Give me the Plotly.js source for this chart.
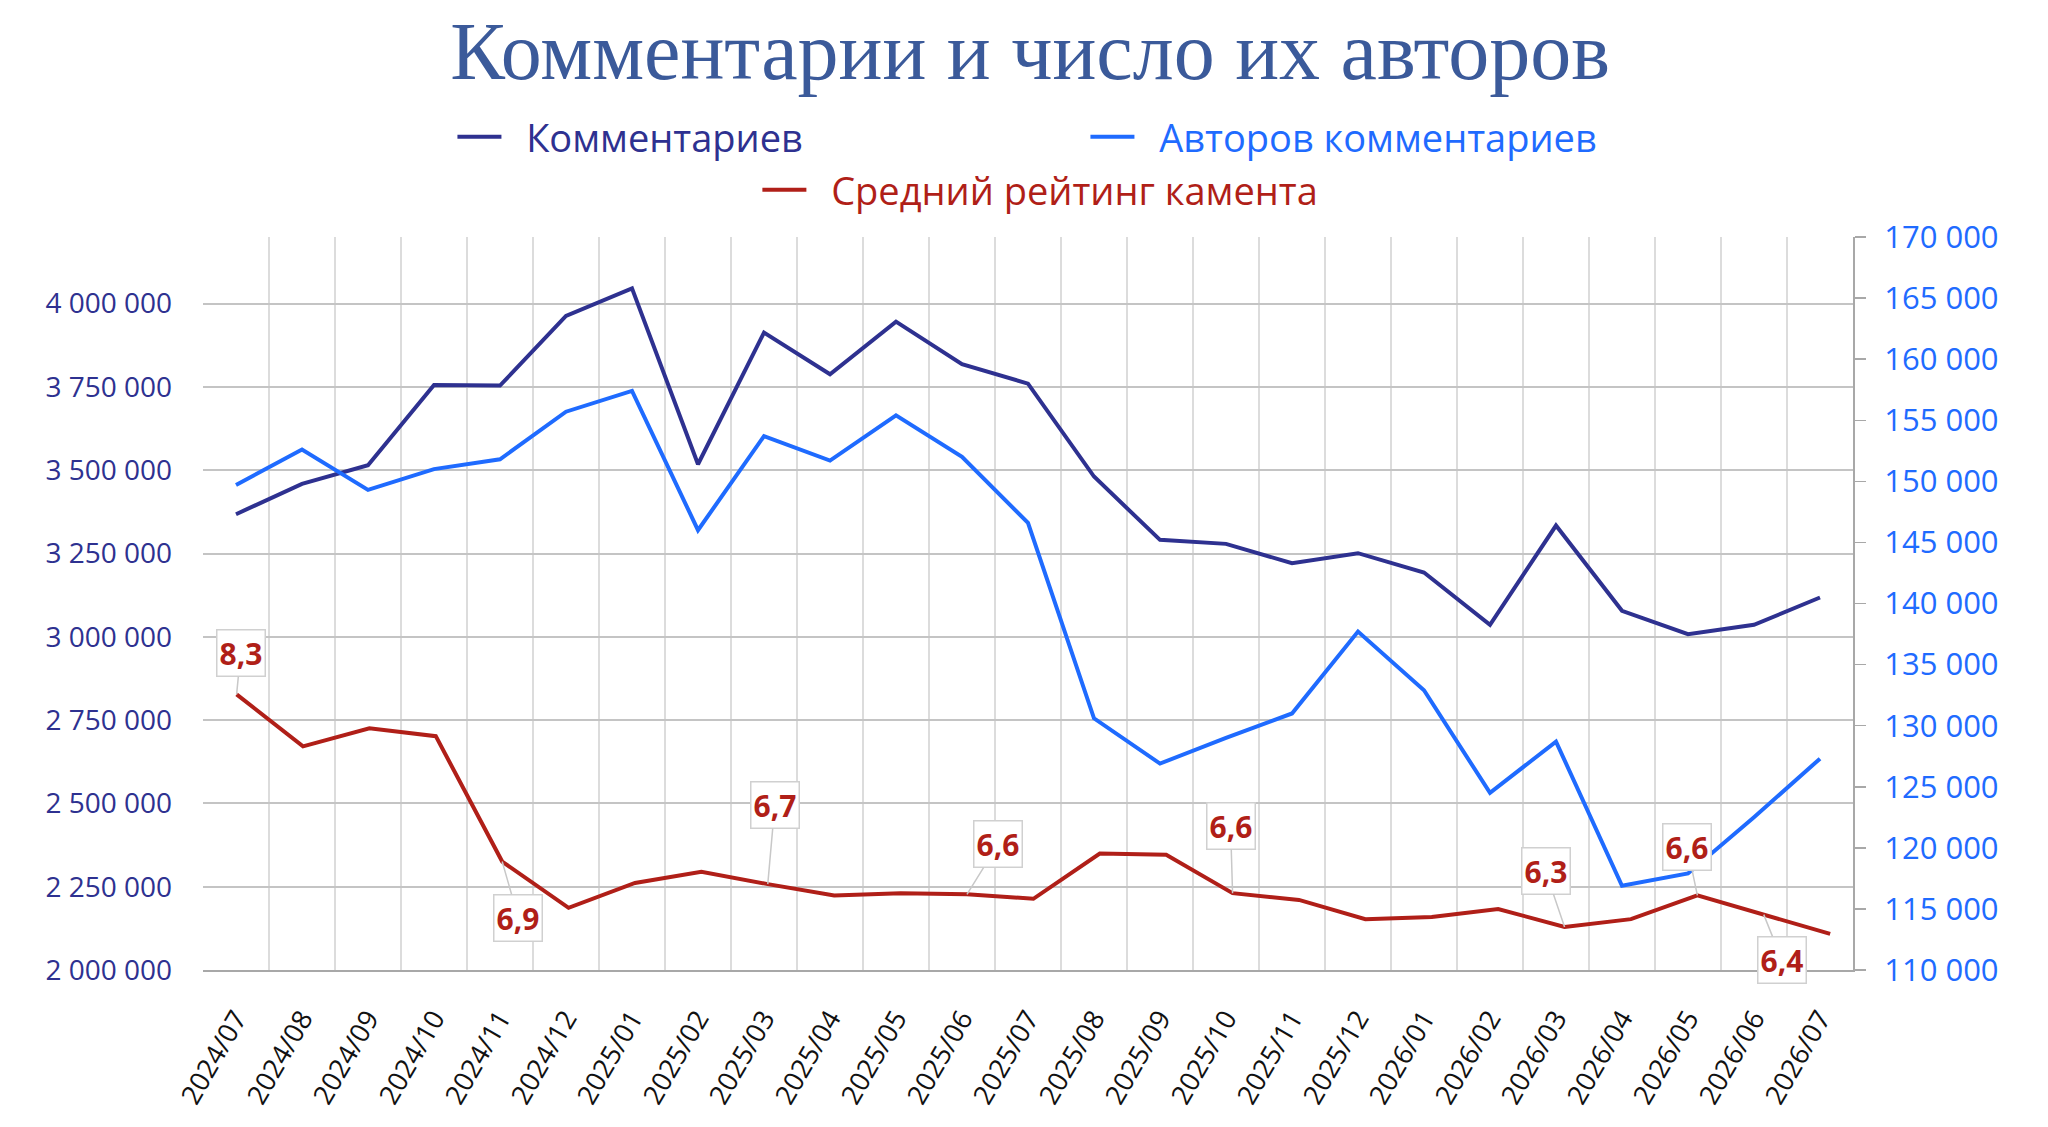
<!DOCTYPE html>
<html>
<head>
<meta charset="utf-8">
<script src="https://cdn.plot.ly/plotly-3.0.1.min.js"></script>
<style>
  html, body { margin: 0; padding: 0; background: #fff; }
  #chart { width: 2048px; height: 1127px; }
</style>
</head>
<body>
<div id="chart"></div>
<script>
var months = ["2024/07", "2024/08", "2024/09", "2024/10", "2024/11", "2024/12",
              "2025/01", "2025/02", "2025/03", "2025/04", "2025/05", "2025/06",
              "2025/07", "2025/08", "2025/09", "2025/10", "2025/11", "2025/12",
              "2026/01", "2026/02", "2026/03", "2026/04", "2026/05", "2026/06",
              "2026/07"];

var comments = [3368000, 3459000, 3515000, 3756000, 3754000, 3963000,
                4046000, 3518000, 3913000, 3788000, 3946000, 3818000,
                3760000, 3481000, 3291000, 3279000, 3221000, 3251000,
                3193000, 3036000, 3334000, 3078000, 3008000, 3036000,
                3118000];

var authors = [149700, 152600, 149300, 151000, 151800, 155700,
               157400, 146000, 153700, 151700, 155400, 152000,
               146600, 130600, 126900, 129000, 131000, 137700,
               132900, 124500, 128700, 116900, 117900, 122500,
               127300];

var rating = [8.34, 7.88, 8.04, 7.97, 6.86, 6.45,
              6.67, 6.77, 6.66, 6.56, 6.58, 6.57,
              6.53, 6.93, 6.92, 6.58, 6.52, 6.35,
              6.37, 6.44, 6.28, 6.35, 6.56, 6.39,
              6.22];

// months that carry a rating callout
var labelled = ["2024/07", "2024/11", "2025/03", "2025/06", "2025/10", "2026/03", "2026/05", "2026/06"];

var NAVY = "#2e3190";
var BLUE = "#1f6bff";
var RED = "#b01f18";

function legendName(txt, col) {
    return '<span style="color:' + col + '">\u00a0\u00a0' + txt + '</span>';
}

var data = [
    {
        x: months, y: comments,
        name: legendName('Комментариев', NAVY),
        mode: 'lines', type: 'scatter',
        line: { color: NAVY, width: 4 },
        legend: 'legend'
    },
    {
        x: months, y: authors,
        name: legendName('Авторов комментариев', BLUE),
        mode: 'lines', type: 'scatter', yaxis: 'y2',
        line: { color: BLUE, width: 4 },
        legend: 'legend'
    },
    {
        x: months, y: rating,
        name: legendName('Средний рейтинг камента', RED),
        mode: 'lines', type: 'scatter', xaxis: 'x2', yaxis: 'y3',
        line: { color: RED, width: 4 },
        legend: 'legend2'
    }
];

// callout box offsets (px) from the point
var offs = [[4, -41], [16, 56], [7, -79], [31, -50], [-2, -67], [-19, -56], [-10, -48], [18, 45]];

var annotations = labelled.map(function (m, k) {
    var v = rating[months.indexOf(m)];
    return {
        x: m, y: v, xref: 'x2', yref: 'y3',
        text: '<b>' + v.toFixed(1).replace('.', ',') + '</b>',
        font: { family: 'Open Sans', size: 30, color: RED },
        showarrow: true, arrowhead: 0, arrowwidth: 1.5, arrowcolor: '#c8c8c8',
        standoff: 0,
        ax: offs[k][0], ay: offs[k][1],
        bgcolor: '#ffffff', bordercolor: '#d0d0d0', borderwidth: 1.5, borderpad: 2
    };
});

var layout = {
    width: 2048, height: 1127,
    margin: { l: 203, r: 195, t: 237, b: 157 },
    paper_bgcolor: '#ffffff', plot_bgcolor: '#ffffff',
    separators: ', ',
    font: { family: 'Open Sans', size: 28, color: '#111111' },
    title: {
        text: 'Комментарии и число их авторов',
        font: { family: 'Liberation Serif', size: 82, color: '#3b5a9a' },
        x: 0.503, xanchor: 'center',
        y: 0.955, yanchor: 'middle'
    },
    showlegend: true,
    legend: {
        orientation: 'h', xref: 'container', yref: 'container',
        x: 0.530, xanchor: 'center', y: 1 - 137 / 1127, yanchor: 'middle',
        font: { family: 'Open Sans', size: 38 },
        itemwidth: 44,
        entrywidth: 574, entrywidthmode: 'pixels',
        bgcolor: 'rgba(0,0,0,0)'
    },
    legend2: {
        orientation: 'h', xref: 'container', yref: 'container',
        x: 0.508, xanchor: 'center', y: 1 - 190 / 1127, yanchor: 'middle',
        font: { family: 'Open Sans', size: 38 },
        itemwidth: 44,
        bgcolor: 'rgba(0,0,0,0)'
    },
    xaxis: {
        type: 'category', tickson: 'boundaries',
        range: [-0.5, months.length - 0.5],
        tickangle: -60, ticks: '', ticklabelstandoff: 20,
        tickfont: { family: 'Open Sans', size: 27, color: '#111111' },
        showgrid: true, gridcolor: '#dcdcdc', gridwidth: 1.5,
        showline: true, linecolor: '#a8a8a8', linewidth: 2,
        zeroline: false, fixedrange: true
    },
    xaxis2: {
        type: 'category', overlaying: 'x', visible: false,
        range: [-0.506, 24.344], anchor: 'y3'
    },
    yaxis: {
        range: [2000000, 4200000], tick0: 2000000, dtick: 250000,
        tickformat: ',d', ticks: '', ticklabelstandoff: 30,
        tickfont: { family: 'Open Sans', size: 28, color: NAVY },
        showgrid: true, gridcolor: '#c4c4c4', gridwidth: 2,
        showline: false, zeroline: false
    },
    yaxis2: {
        overlaying: 'y', side: 'right',
        range: [110000, 170000], tick0: 110000, dtick: 5000,
        tickformat: ',d', ticks: 'outside', ticklen: 11, tickwidth: 1.5, tickcolor: '#a8a8a8',
        ticklabelstandoff: 12,
        tickfont: { family: 'Open Sans', size: 31, color: BLUE },
        showgrid: false, showline: true, linecolor: '#a8a8a8', linewidth: 2,
        zeroline: false
    },
    yaxis3: {
        overlaying: 'y', anchor: 'x2', visible: false,
        range: [5.8997, 12.389]
    },
    annotations: annotations
};

var config = { responsive: false, displayModeBar: false, staticPlot: true };
Plotly.newPlot(document.getElementById('chart'), data, layout, config);
</script>
</body>
</html>
